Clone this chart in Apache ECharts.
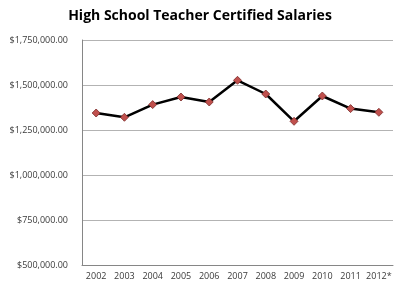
<!DOCTYPE html>
<html><head><meta charset="utf-8">
<script src="https://cdn.jsdelivr.net/npm/echarts@6/dist/echarts.min.js"></script>
<style>html,body{margin:0;padding:0;background:#fff}#c{width:400px;height:288px}</style>
</head><body><div id="c"></div>
<script>
const years = ['2002','2003','2004','2005','2006','2007','2008','2009','2010','2011','2012*'];
const salaries = [1344400, 1320600, 1391100, 1433300, 1405600, 1526100, 1450000, 1298300, 1438900, 1368900, 1348300];
const yMin = 500000, yMax = 1750000, yStep = 250000;
const titleText = 'High School Teacher Certified Salaries';

const chart = echarts.init(document.getElementById('c'), null, {renderer:'canvas'});
const fmt = v => '$' + v.toLocaleString('en-US', {minimumFractionDigits:2, maximumFractionDigits:2});
chart.setOption({
  animation:false,
  title:{text:titleText, left:'center', top:4,
    textStyle:{fontFamily:'Open Sans', fontWeight:'bold', fontSize:14, color:'#000'}},
  grid:{left:82, right:7, top:40, bottom:23, containLabel:false},
  xAxis:{type:'category', data:years, boundaryGap:true,
    axisLine:{lineStyle:{color:'#868686', width:1}}, axisTick:{show:false},
    axisLabel:{fontFamily:'Open Sans', fontSize:9, color:'#3a3a3a', margin:7, interval:0}},
  yAxis:{type:'value', min:yMin, max:yMax, interval:yStep,
    axisLine:{show:true, lineStyle:{color:'#868686', width:1}}, axisTick:{show:false},
    splitLine:{lineStyle:{color:'#b3b3b3', width:1}},
    axisLabel:{fontFamily:'Open Sans', fontSize:9, color:'#3a3a3a', margin:14, formatter:fmt}},
  series:[{type:'line', data:salaries, symbol:'diamond', symbolSize:8,
    lineStyle:{color:'#000', width:2.5},
    itemStyle:{color:'#c0504d', borderColor:'#7a2a28', borderWidth:0.8}}]
});
</script></body></html>
